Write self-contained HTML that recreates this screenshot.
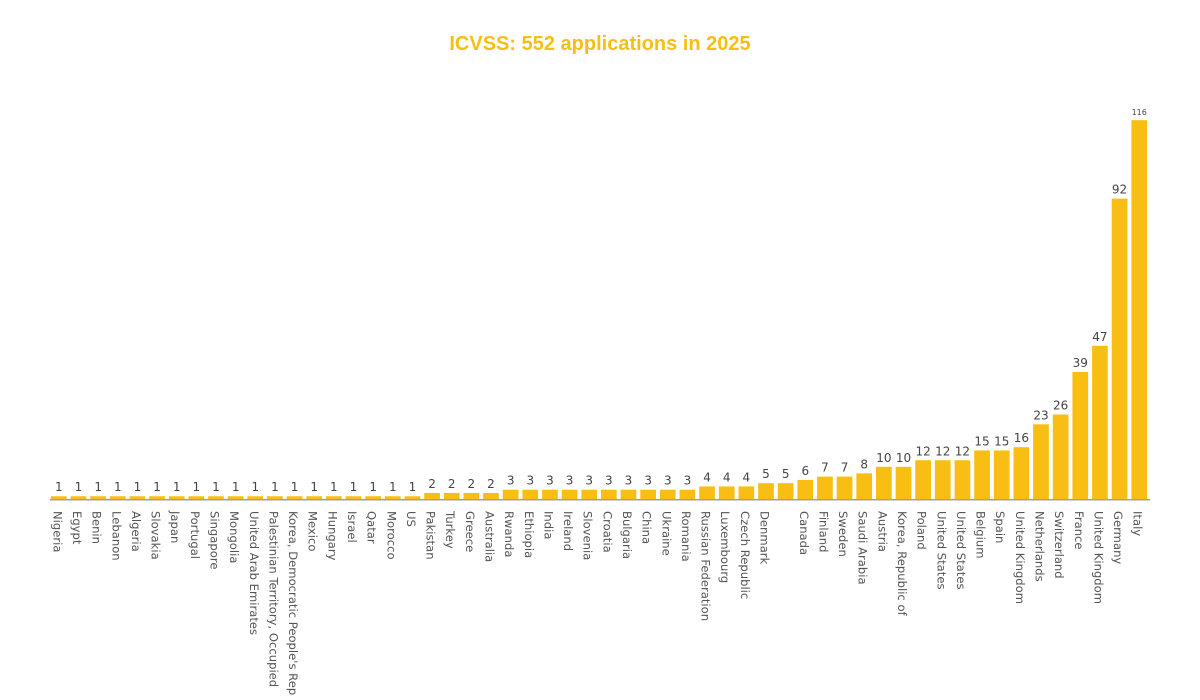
<!DOCTYPE html>
<html>
<head>
<meta charset="utf-8">
<style>
html,body{margin:0;padding:0;background:#fff;}
body{width:1200px;height:700px;overflow:hidden;}
svg{display:block;overflow:hidden;}
.v{font-family:"DejaVu Sans","Liberation Sans",sans-serif;font-size:12px;fill:#444;text-anchor:middle;}
.c{font-family:"DejaVu Sans","Liberation Sans",sans-serif;font-size:11.6px;fill:#555;}
.t{font-family:"Liberation Sans",Arial,sans-serif;font-size:20px;font-weight:bold;fill:#F9BE14;text-anchor:middle;}
</style>
</head>
<body>
<svg width="1200" height="700" viewBox="0 0 1200 700" xmlns="http://www.w3.org/2000/svg">
<text class="t" x="600" y="50">ICVSS: 552 applications in 2025</text>
<g fill="#F9BE14">
<rect x="51.00" y="496.23" width="15.7" height="3.27"/>
<rect x="70.64" y="496.23" width="15.7" height="3.27"/>
<rect x="90.29" y="496.23" width="15.7" height="3.27"/>
<rect x="109.93" y="496.23" width="15.7" height="3.27"/>
<rect x="129.57" y="496.23" width="15.7" height="3.27"/>
<rect x="149.22" y="496.23" width="15.7" height="3.27"/>
<rect x="168.86" y="496.23" width="15.7" height="3.27"/>
<rect x="188.50" y="496.23" width="15.7" height="3.27"/>
<rect x="208.14" y="496.23" width="15.7" height="3.27"/>
<rect x="227.79" y="496.23" width="15.7" height="3.27"/>
<rect x="247.43" y="496.23" width="15.7" height="3.27"/>
<rect x="267.07" y="496.23" width="15.7" height="3.27"/>
<rect x="286.72" y="496.23" width="15.7" height="3.27"/>
<rect x="306.36" y="496.23" width="15.7" height="3.27"/>
<rect x="326.00" y="496.23" width="15.7" height="3.27"/>
<rect x="345.65" y="496.23" width="15.7" height="3.27"/>
<rect x="365.29" y="496.23" width="15.7" height="3.27"/>
<rect x="384.93" y="496.23" width="15.7" height="3.27"/>
<rect x="404.57" y="496.23" width="15.7" height="3.27"/>
<rect x="424.22" y="492.96" width="15.7" height="6.54"/>
<rect x="443.86" y="492.96" width="15.7" height="6.54"/>
<rect x="463.50" y="492.96" width="15.7" height="6.54"/>
<rect x="483.15" y="492.96" width="15.7" height="6.54"/>
<rect x="502.79" y="489.69" width="15.7" height="9.81"/>
<rect x="522.43" y="489.69" width="15.7" height="9.81"/>
<rect x="542.08" y="489.69" width="15.7" height="9.81"/>
<rect x="561.72" y="489.69" width="15.7" height="9.81"/>
<rect x="581.36" y="489.69" width="15.7" height="9.81"/>
<rect x="601.00" y="489.69" width="15.7" height="9.81"/>
<rect x="620.65" y="489.69" width="15.7" height="9.81"/>
<rect x="640.29" y="489.69" width="15.7" height="9.81"/>
<rect x="659.93" y="489.69" width="15.7" height="9.81"/>
<rect x="679.58" y="489.69" width="15.7" height="9.81"/>
<rect x="699.22" y="486.42" width="15.7" height="13.08"/>
<rect x="718.86" y="486.42" width="15.7" height="13.08"/>
<rect x="738.51" y="486.42" width="15.7" height="13.08"/>
<rect x="758.15" y="483.15" width="15.7" height="16.35"/>
<rect x="777.79" y="483.15" width="15.7" height="16.35"/>
<rect x="797.43" y="479.88" width="15.7" height="19.62"/>
<rect x="817.08" y="476.61" width="15.7" height="22.89"/>
<rect x="836.72" y="476.61" width="15.7" height="22.89"/>
<rect x="856.36" y="473.34" width="15.7" height="26.16"/>
<rect x="876.01" y="466.80" width="15.7" height="32.70"/>
<rect x="895.65" y="466.80" width="15.7" height="32.70"/>
<rect x="915.29" y="460.26" width="15.7" height="39.24"/>
<rect x="934.94" y="460.26" width="15.7" height="39.24"/>
<rect x="954.58" y="460.26" width="15.7" height="39.24"/>
<rect x="974.22" y="450.45" width="15.7" height="49.05"/>
<rect x="993.86" y="450.45" width="15.7" height="49.05"/>
<rect x="1013.51" y="447.18" width="15.7" height="52.32"/>
<rect x="1033.15" y="424.29" width="15.7" height="75.21"/>
<rect x="1052.79" y="414.48" width="15.7" height="85.02"/>
<rect x="1072.44" y="371.97" width="15.7" height="127.53"/>
<rect x="1092.08" y="345.81" width="15.7" height="153.69"/>
<rect x="1111.72" y="198.66" width="15.7" height="300.84"/>
<rect x="1131.37" y="120.18" width="15.7" height="379.32"/>
</g>
<line x1="50" y1="499.75" x2="1150" y2="499.75" stroke="#A0A0A0" stroke-width="1.5"/>
<g class="v">
<text x="58.85" y="491.2">1</text>
<text x="78.49" y="491.2">1</text>
<text x="98.14" y="491.2">1</text>
<text x="117.78" y="491.2">1</text>
<text x="137.42" y="491.2">1</text>
<text x="157.07" y="491.2">1</text>
<text x="176.71" y="491.2">1</text>
<text x="196.35" y="491.2">1</text>
<text x="215.99" y="491.2">1</text>
<text x="235.64" y="491.2">1</text>
<text x="255.28" y="491.2">1</text>
<text x="274.92" y="491.2">1</text>
<text x="294.57" y="491.2">1</text>
<text x="314.21" y="491.2">1</text>
<text x="333.85" y="491.2">1</text>
<text x="353.50" y="491.2">1</text>
<text x="373.14" y="491.2">1</text>
<text x="392.78" y="491.2">1</text>
<text x="412.42" y="491.2">1</text>
<text x="432.07" y="488.0">2</text>
<text x="451.71" y="488.0">2</text>
<text x="471.35" y="488.0">2</text>
<text x="491.00" y="488.0">2</text>
<text x="510.64" y="484.7">3</text>
<text x="530.28" y="484.7">3</text>
<text x="549.93" y="484.7">3</text>
<text x="569.57" y="484.7">3</text>
<text x="589.21" y="484.7">3</text>
<text x="608.85" y="484.7">3</text>
<text x="628.50" y="484.7">3</text>
<text x="648.14" y="484.7">3</text>
<text x="667.78" y="484.7">3</text>
<text x="687.43" y="484.7">3</text>
<text x="707.07" y="481.4">4</text>
<text x="726.71" y="481.4">4</text>
<text x="746.36" y="481.4">4</text>
<text x="766.00" y="478.2">5</text>
<text x="785.64" y="478.2">5</text>
<text x="805.28" y="474.9">6</text>
<text x="824.93" y="471.6">7</text>
<text x="844.57" y="471.6">7</text>
<text x="864.21" y="468.3">8</text>
<text x="883.86" y="461.8">10</text>
<text x="903.50" y="461.8">10</text>
<text x="923.14" y="455.3">12</text>
<text x="942.79" y="455.3">12</text>
<text x="962.43" y="455.3">12</text>
<text x="982.07" y="445.5">15</text>
<text x="1001.71" y="445.5">15</text>
<text x="1021.36" y="442.2">16</text>
<text x="1041.00" y="419.3">23</text>
<text x="1060.64" y="409.5">26</text>
<text x="1080.29" y="367.0">39</text>
<text x="1099.93" y="340.8">47</text>
<text x="1119.57" y="193.7">92</text>
<text x="1139.22" y="115.2" style="font-size:8px">116</text>
</g>
<g class="c">
<text transform="translate(53.35,511) rotate(90)">Nigeria</text>
<text transform="translate(72.99,511) rotate(90)">Egypt</text>
<text transform="translate(92.64,511) rotate(90)">Benin</text>
<text transform="translate(112.28,511) rotate(90)">Lebanon</text>
<text transform="translate(131.92,511) rotate(90)">Algeria</text>
<text transform="translate(151.57,511) rotate(90)">Slovakia</text>
<text transform="translate(171.21,511) rotate(90)">Japan</text>
<text transform="translate(190.85,511) rotate(90)">Portugal</text>
<text transform="translate(210.49,511) rotate(90)">Singapore</text>
<text transform="translate(230.14,511) rotate(90)">Mongolia</text>
<text transform="translate(249.78,511) rotate(90)">United Arab Emirates</text>
<text transform="translate(269.42,511) rotate(90)">Palestinian Territory, Occupied</text>
<text transform="translate(289.07,511) rotate(90)">Korea, Democratic People's Rep</text>
<text transform="translate(308.71,511) rotate(90)">Mexico</text>
<text transform="translate(328.35,511) rotate(90)">Hungary</text>
<text transform="translate(348.00,511) rotate(90)">Israel</text>
<text transform="translate(367.64,511) rotate(90)">Qatar</text>
<text transform="translate(387.28,511) rotate(90)">Morocco</text>
<text transform="translate(406.92,511) rotate(90)">US</text>
<text transform="translate(426.57,511) rotate(90)">Pakistan</text>
<text transform="translate(446.21,511) rotate(90)">Turkey</text>
<text transform="translate(465.85,511) rotate(90)">Greece</text>
<text transform="translate(485.50,511) rotate(90)">Australia</text>
<text transform="translate(505.14,511) rotate(90)">Rwanda</text>
<text transform="translate(524.78,511) rotate(90)">Ethiopia</text>
<text transform="translate(544.43,511) rotate(90)">India</text>
<text transform="translate(564.07,511) rotate(90)">Ireland</text>
<text transform="translate(583.71,511) rotate(90)">Slovenia</text>
<text transform="translate(603.35,511) rotate(90)">Croatia</text>
<text transform="translate(623.00,511) rotate(90)">Bulgaria</text>
<text transform="translate(642.64,511) rotate(90)">China</text>
<text transform="translate(662.28,511) rotate(90)">Ukraine</text>
<text transform="translate(681.93,511) rotate(90)">Romania</text>
<text transform="translate(701.57,511) rotate(90)">Russian Federation</text>
<text transform="translate(721.21,511) rotate(90)">Luxembourg</text>
<text transform="translate(740.86,511) rotate(90)">Czech Republic</text>
<text transform="translate(760.50,511) rotate(90)">Denmark</text>
<text transform="translate(799.78,511) rotate(90)">Canada</text>
<text transform="translate(819.43,511) rotate(90)">Finland</text>
<text transform="translate(839.07,511) rotate(90)">Sweden</text>
<text transform="translate(858.71,511) rotate(90)">Saudi Arabia</text>
<text transform="translate(878.36,511) rotate(90)">Austria</text>
<text transform="translate(898.00,511) rotate(90)">Korea, Republic of</text>
<text transform="translate(917.64,511) rotate(90)">Poland</text>
<text transform="translate(937.29,511) rotate(90)">United States</text>
<text transform="translate(956.93,511) rotate(90)">United States</text>
<text transform="translate(976.57,511) rotate(90)">Belgium</text>
<text transform="translate(996.21,511) rotate(90)">Spain</text>
<text transform="translate(1015.86,511) rotate(90)">United Kingdom</text>
<text transform="translate(1035.50,511) rotate(90)">Netherlands</text>
<text transform="translate(1055.14,511) rotate(90)">Switzerland</text>
<text transform="translate(1074.79,511) rotate(90)">France</text>
<text transform="translate(1094.43,511) rotate(90)">United Kingdom</text>
<text transform="translate(1114.07,511) rotate(90)">Germany</text>
<text transform="translate(1133.72,511) rotate(90)">Italy</text>
</g>
</svg>
</body>
</html>
